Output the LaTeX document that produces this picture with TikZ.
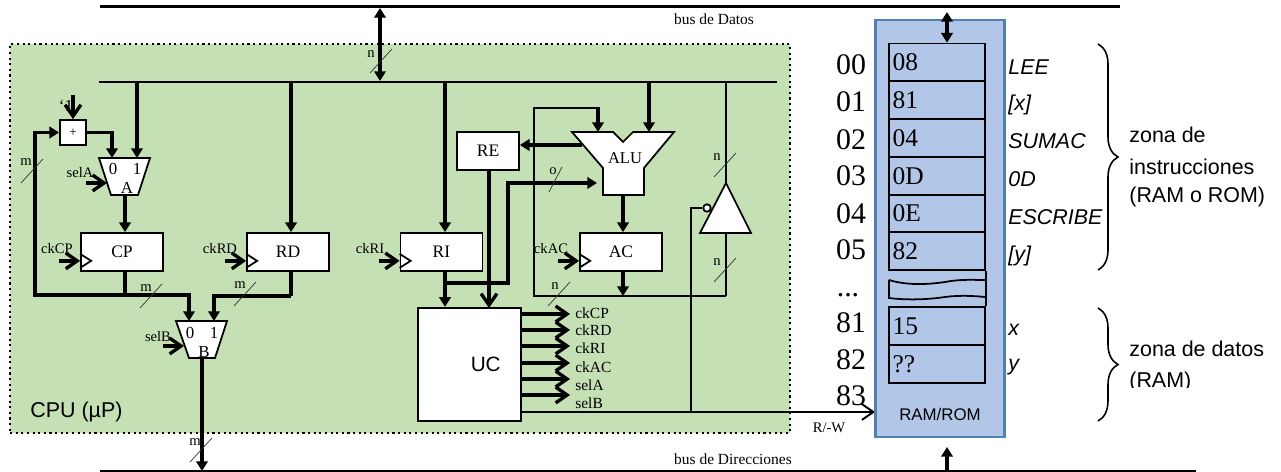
\documentclass[tikz,border=0pt]{standalone}
\usepackage{fontspec}
\setmainfont{Liberation Serif}
\setsansfont{Liberation Sans}
\usepackage{xcolor}
\usetikzlibrary{shapes,arrows.meta,calc}
\usetikzlibrary{decorations.pathreplacing}
\definecolor{cpugreen}{RGB}{197,224,180}
\definecolor{ramblue}{RGB}{178,198,231}
\definecolor{ramedge}{RGB}{80,128,175}

\tikzset{
    sysbus/.style={line width=1.2pt},
    wire/.style={line width=1.9pt},
    thinwire/.style={line width=1.1pt},
    tofill/.style={-{Triangle[length=5.5pt,width=6.5pt]}},
    toopen/.style={-{Straight Barb[length=6.5pt,width=9pt]}},
    regbox/.style={draw, rectangle, fill=white, line width=1pt, minimum width=1.64cm, minimum height=0.76cm, inner sep=0pt, font=\fontsize{10}{11}\selectfont},
    muxshape/.style={draw, fill=white, line width=1pt},
    lbl/.style={inner sep=0pt, font=\fontsize{8.3}{9}\selectfont},
    muxlbl/.style={inner sep=0pt, font=\fontsize{9.6}{10}\selectfont},
    slashmark/.style={line width=0.4pt, black!80},
    cell/.style={draw, rectangle, line width=1pt, minimum height=0.76cm, text width=1.78cm, inner xsep=0.07cm, inner ysep=0pt, align=left, font=\fontsize{14.5}{15}\selectfont},
    addr/.style={inner sep=0pt, font=\fontsize{17}{18}\selectfont},
    asm/.style={anchor=west, inner sep=0pt, font=\sffamily\itshape\fontsize{12.2}{13}\selectfont},
    zona/.style={anchor=west, inner sep=0pt, font=\sffamily\fontsize{12.2}{13}\selectfont},
    zbrace/.style={decorate, decoration={brace, amplitude=0.4cm}, line width=0.9pt}
}

\begin{document}
\begin{tikzpicture}[x=0.02cm, y=-0.02cm]
    \useasboundingbox (0,0) rectangle (1281,472);

    % CPU background
    \node[draw, dotted, rectangle, fill=cpugreen, line width=1.2pt, minimum width=15.6cm, minimum height=7.78cm, inner sep=0pt] (cpu) at (400,238.5) {};
    \node[anchor=west, inner sep=0pt, font=\sffamily\fontsize{12.2}{13}\selectfont] (cpulabel) at (30,412) {CPU (\textmu P)};

    % System buses
    \coordinate (datosL) at (100,6.5);
    \coordinate (datosR) at (1120,6.5);
    \coordinate (dirL) at (100,471);
    \coordinate (dirR) at (1196,471);
    \draw[sysbus] (datosL) -- (datosR);
    \draw[sysbus] (dirL) -- (dirR);
    \node[lbl, font=\fontsize{8.8}{9}\selectfont] (busdatos) at (714,19) {bus de Datos};
    \node[lbl, font=\fontsize{8.8}{9}\selectfont] (busdir) at (733,459) {bus de Direcciones};

    % Internal bus
    \coordinate (intL) at (99,82);
    \coordinate (intR) at (777,82);
    \draw[sysbus] (intL) -- (intR);
    \coordinate (dataTop) at (380,8);
    \coordinate (dataBot) at (380,81);
    \draw[wire, {Triangle[length=5.5pt,width=6.5pt]}-{Triangle[length=5.5pt,width=6.5pt]}] (dataTop) -- (dataBot);

    % Registers
    \node[regbox] (cp) at (122,252) {CP};
    \node[regbox] (rd) at (288,252) {RD};
    \node[regbox] (ri) at (441.5,252) {RI};
    \node[regbox] (ac) at (621,252) {AC};
    \node[regbox, minimum width=1.24cm] (re) at (488,151) {RE};
    \node[draw, rectangle, fill=white, line width=1pt, minimum width=2.06cm, minimum height=2.27cm, inner sep=0pt, font=\sffamily\fontsize{11.8}{12}\selectfont] (uc) at (469.5,364.5) {\hspace{0.65cm}UC};

    % Clock inputs
    \foreach \reg/\txt/\lx in {cp/ckCP/57, rd/ckRD/220, ri/ckRI/370, ac/ckAC/551} {
        \draw[line width=1pt] (\reg.south west) ++(0,-4) -- ++(11,-7) -- ++(-11,-7);
        \node[lbl] (lab\reg) at (\lx,249) {\txt};
        \draw[wire, toopen] ($(\reg.south west)+(-21,-11)$) -- ($(\reg.south west)+(0,-11)$);
    }

    % Incrementer and muxes
    \node[draw, rectangle, fill=white, line width=1pt, minimum width=0.52cm, minimum height=0.5cm, inner sep=0pt, font=\fontsize{7.5}{8}\selectfont] (inc) at (73,132.5) {+};
    \node[muxlbl] (one) at (66,106) {`1};
    \coordinate (oneTop) at (73,95);
    \draw[wire, toopen] (oneTop) -- (inc.north);
    \coordinate (muxAa) at (112,158);
    \coordinate (muxAb) at (137,158);
    \coordinate (muxAo) at (125,195);
    \draw[muxshape] (99,158) -- (150,158) -- (138,195) -- (111,195) -- cycle;
    \node[muxlbl] (muxA0) at (113,169) {0};
    \node[muxlbl] (muxA1) at (137,169) {1};
    \node[muxlbl] (muxAn) at (127,188) {A};
    \node[lbl] (selAlab) at (80,173) {selA};
    \coordinate (selAin) at (86,183);
    \coordinate (selAend) at (107,183);
    \draw[wire, toopen] (selAin) -- (selAend);
    \coordinate (muxBa) at (189,321);
    \coordinate (muxBb) at (214,321);
    \coordinate (muxBo) at (202,358);
    \draw[muxshape] (176,321) -- (227,321) -- (215,358) -- (189,358) -- cycle;
    \node[muxlbl] (muxB0) at (190,333) {0};
    \node[muxlbl] (muxB1) at (214,333) {1};
    \node[muxlbl] (muxBn) at (204,352) {B};
    \node[lbl] (selBlab) at (158,337) {selB};
    \coordinate (selBin) at (163,346);
    \coordinate (selBend) at (184,346);
    \draw[wire, toopen] (selBin) -- (selBend);

    % Address path
    \coordinate (jcp) at (125,295);
    \coordinate (loopL) at (35,295);
    \coordinate (rdOut) at (291,296);
    \draw[wire, tofill] (intL -| muxAb) -- (muxAb);
    \draw[wire, tofill] (inc.east) -| (muxAa);
    \draw[wire, tofill] (jcp) -- (loopL) |- (inc.west);
    \draw[wire, tofill] (muxAo) -- (muxAo |- cp.north);
    \draw[wire] (jcp |- cp.south) -- (jcp);
    \draw[wire, tofill] (jcp) -| (muxBa);
    \draw[wire, tofill] (intL -| rdOut) -- (rdOut |- rd.north);
    \draw[wire] (rdOut |- rd.south) -- (rdOut);
    \draw[wire, tofill] (rdOut) -| (muxBb);
    \draw[wire, tofill] (muxBo) -- (muxBo |- dirL);

    % ALU and accumulator
    \draw[line width=1pt, fill=white] (572,132) -- (613,132) -- (623,142) -- (633,132) -- (674,132) -- (644,168) -- (644,195) -- (603,195) -- (603,168) -- cycle;
    \node[inner sep=0pt, font=\fontsize{9.4}{10}\selectfont] (alu) at (625,158) {ALU};
    \coordinate (aluA) at (598,132);
    \coordinate (aluB) at (649,132);
    \coordinate (aluC) at (597,183);
    \coordinate (aluE) at (582,145);
    \coordinate (aluS) at (623,195);
    \coordinate (fbTop) at (534,108);
    \coordinate (fbBot) at (534,296);
    \coordinate (fbR) at (726,296);
    \draw[wire, tofill] (intL -| aluB) -- (aluB);
    \draw[wire, tofill] (aluE) -- (re.east |- aluE);
    \draw[wire, tofill] (aluS) -- (aluS |- ac.north);
    \draw[thinwire] (fbR) -- (fbBot) -- (fbTop) -| (aluA);
    \draw[wire, tofill] ($(aluA)+(0,-25)$) -- (aluA);
    \draw[wire, tofill] (aluS |- ac.south) -- (aluS |- fbBot);

    % Path to the control unit
    \coordinate (jri) at (445,283);
    \coordinate (riUp) at (508,183);
    \coordinate (reDown) at (489,308);
    \draw[wire, tofill] (intL -| jri) -- (jri |- ri.north);
    \draw[wire, tofill] (jri |- ri.south) -- (jri |- uc.north);
    \draw[wire, tofill] (jri) -| (riUp) -- (aluC);
    \draw[wire, toopen] (reDown |- re.south) -- (reDown);

    % Tristate buffer
    \draw[line width=1pt, fill=white] (726,183) -- (751,233) -- (700,233) -- cycle;
    \node[draw, circle, fill=white, line width=1pt, minimum size=0.15cm, inner sep=0pt] (bubble) at (707,208) {};
    \coordinate (triTop) at (726,183);
    \coordinate (triBot) at (726,233);
    \draw[thinwire] (intR -| triTop) -- (triTop);
    \draw[thinwire] (triBot) -- (fbR);
    \coordinate (rwV) at (691,412);
    \coordinate (ramIn) at (875,412);
    \draw[thinwire] (bubble.west) -| (rwV);
    \draw[thinwire, toopen] (uc.east |- rwV) -- (ramIn);
    \node[lbl] (rwlab) at (829,428) {R/-W};

    % Control signals
    \foreach \sig/\sy/\ty in {ckCP/314/313, ckRD/330/330, ckRI/346/348, ckAC/363/367, selA/379/385, selB/395/403} {
        \node[lbl, anchor=west, font=\fontsize{8.8}{9}\selectfont] (out\sig) at (575,\ty) {\sig};
        \coordinate (end\sig) at (570,\sy);
        \draw[wire, toopen] (uc.east |- end\sig) -- (end\sig);
    }

    % Width marks
    \foreach \txt/\lx/\ly/\sx/\sy in {n/371/54/381/61, m/26/162/32/171, m/146/288/151/296, m/240/285/245/294, m/195/442/201/450, n/555/286/559/294, n/717/157/725/165, n/717/262/725/270} {
        \node[lbl] at (\lx,\ly) {\txt};
        \draw[slashmark] (\sx-11,\sy+12) -- (\sx+11,\sy-12);
    }
    \node[lbl] (olab) at (553,171) {o};
    \coordinate (oA) at (549,192);
    \coordinate (oB) at (562,167);
    \draw[slashmark] (oA) -- (oB);

    % Memory
    \node[draw, rectangle, fill=ramblue, draw=ramedge, line width=1.3pt, minimum width=2.58cm, minimum height=8.34cm, inner sep=0pt] (ram) at (940,228.5) {};
    \node[inner sep=0pt, font=\sffamily\fontsize{9.6}{10}\selectfont] (ramlab) at (940,414) {RAM/ROM};
    \foreach \cy/\val/\nm in {62.5/08/a, 100/81/b, 138/04/c, 176/0D/d, 213.5/0E/e, 251/82/f, 326/15/g, 364/??/h} {
        \node[cell] (cell\nm) at (937,\cy) {\val};
    }
    \coordinate (brkA) at (889,280);
    \coordinate (brkB) at (985,280);
    \coordinate (brkC) at (889,298);
    \coordinate (brkD) at (985,297);
    \draw[line width=1pt] (brkA) .. controls (905,285) and (925,285) .. (945,282) .. controls (960,279) and (975,280) .. (brkB);
    \draw[line width=1pt] (brkA) -- (brkC) .. controls (905,300) and (925,300) .. (945,297) .. controls (960,295) and (975,296) .. (brkD);
    \draw[line width=1pt] (cellf.south east) -- (cellg.north east);

    \coordinate (ramTop) at (947,12);
    \coordinate (ramBot) at (947,471);
    \coordinate (ramArr) at (947,447);
    \draw[wire, {Triangle[length=5.5pt,width=6.5pt]}-{Triangle[length=5.5pt,width=6.5pt]}] (ramTop) -- (ramTop |- cella.north);
    \draw[wire, tofill] (ramBot) -- (ramArr);

    % Addresses
    \foreach \cy/\val in {65/00, 102/01, 140/02, 176/03, 214/04, 250/05, 323/81, 360/82, 396/83} {
        \node[addr] at (851,\cy) {\val};
    }
    \node[addr] (dots) at (848,295) {...};

    % Contents
    \foreach \cy/\val in {67/LEE, 105/{[x]}, 141/SUMAC, 179/0D, 217/ESCRIBE, 256/{[y]}, 330/x, 367/y} {
        \node[asm] at (1008,\cy) {\val};
    }

    % Zones
    \coordinate (zaT) at (1098,44);
    \coordinate (zaB) at (1098,270);
    \coordinate (zbT) at (1098,308);
    \coordinate (zbB) at (1098,421);
    \draw[zbrace] (zaT) -- (zaB);
    \draw[zbrace] (zbT) -- (zbB);
    \node[zona] (z1) at (1129,135) {zona de};
    \node[zona] (z2) at (1129,167) {instrucciones};
    \node[zona] (z3) at (1129,197) {(RAM o ROM)};
    \node[zona] (z4) at (1129,349) {zona de datos};
    \begin{scope}
        \clip (1120,366) rectangle (1281,388);
        \node[zona] (z5) at (1129,382) {(RAM)};
    \end{scope}
\end{tikzpicture}
\end{document}
